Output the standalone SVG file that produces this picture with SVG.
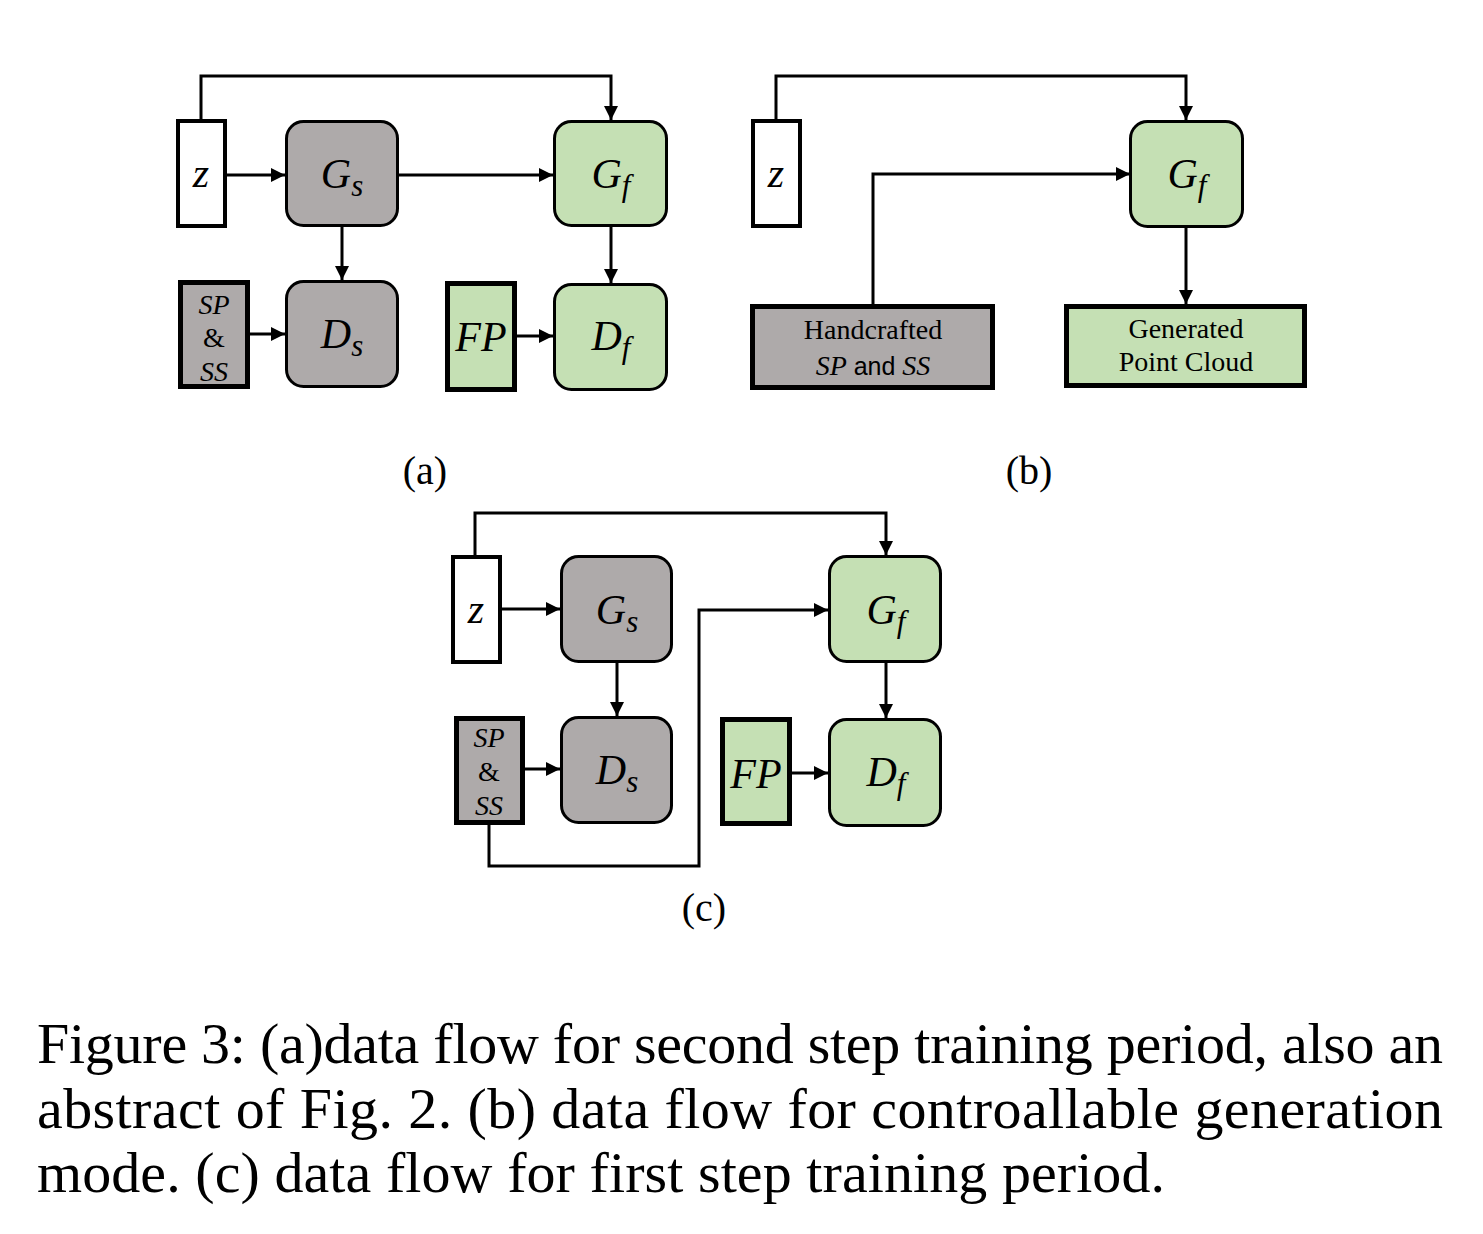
<svg xmlns="http://www.w3.org/2000/svg" width="1483" height="1234" viewBox="0 0 1483 1234">
<style>
.bg{fill:#ffffff}
.gray{fill:#AEAAAA;stroke:#000;stroke-width:3}
.green{fill:#C5E0B4;stroke:#000;stroke-width:3}
.zbox{fill:#ffffff;stroke:#000;stroke-width:4}
.sbox{fill:#AEAAAA;stroke:#000;stroke-width:5}
.fbox{fill:#C5E0B4;stroke:#000;stroke-width:5}
.conn{fill:none;stroke:#000;stroke-width:3}
.m{font-family:"Liberation Serif","DejaVu Serif",serif;font-style:italic;fill:#000;text-anchor:middle}
.big{font-size:42px}
.sub{font-size:31px}
.sm{font-size:28px}
.r{font-family:"Liberation Serif","DejaVu Serif",serif;fill:#000;text-anchor:middle}
.lbl{font-family:"Liberation Serif",serif;font-size:40px;fill:#000;text-anchor:middle}
.cap{font-family:"Liberation Serif",serif;font-size:58px;fill:#000}
</style>
<defs>
<marker id="arr" markerUnits="userSpaceOnUse" markerWidth="16" markerHeight="16" viewBox="0 0 16 16" refX="14" refY="8" orient="auto">
<path d="M0,1 L14,8 L0,15 Z" fill="#000"/>
</marker>
</defs>
<rect class="bg" x="0" y="0" width="1483" height="1234"/>

<!-- Panel (a) -->
<g id="a-connectors">
<path class="conn" d="M201 119 V76 H611 V120" marker-end="url(#arr)"/>
<path class="conn" d="M227 175 H285" marker-end="url(#arr)"/>
<path class="conn" d="M399 175 H553" marker-end="url(#arr)"/>
<path class="conn" d="M342 227 V280" marker-end="url(#arr)"/>
<path class="conn" d="M611 227 V283" marker-end="url(#arr)"/>
<path class="conn" d="M250 334 H285" marker-end="url(#arr)"/>
<path class="conn" d="M517 336 H553" marker-end="url(#arr)"/>
</g>
<g id="a-z"><rect class="zbox" x="178" y="121" width="47" height="105"/><text class="m big" x="201" y="187">z</text></g>
<g id="a-Gs"><rect class="gray" x="286.5" y="121.5" width="111" height="104" rx="17"/><text class="m big" x="342" y="188">G<tspan class="sub" dy="8">s</tspan></text></g>
<g id="a-Gf"><rect class="green" x="554.5" y="121.5" width="112" height="104" rx="17"/><text class="m big" x="611" y="188">G<tspan class="sub" dy="8">f</tspan></text></g>
<g id="a-Ds"><rect class="gray" x="286.5" y="281.5" width="111" height="105" rx="17"/><text class="m big" x="342" y="348">D<tspan class="sub" dy="8">s</tspan></text></g>
<g id="a-Df"><rect class="green" x="554.5" y="284.5" width="112" height="105" rx="17"/><text class="m big" x="611" y="350">D<tspan class="sub" dy="8">f</tspan></text></g>
<g id="a-SPSS"><rect class="sbox" x="180.5" y="282.5" width="67" height="104"/>
<text class="m sm" x="214" y="314">SP</text><text class="r sm" x="214" y="347">&amp;</text><text class="m sm" x="214" y="381">SS</text></g>
<g id="a-FP"><rect class="fbox" x="447.5" y="283.5" width="67" height="106"/><text class="m" style="font-size:42px" x="481" y="351">FP</text></g>
<text class="lbl" x="425" y="484">(a)</text>

<!-- Panel (b) -->
<g id="b-connectors">
<path class="conn" d="M776 119 V76 H1186 V120" marker-end="url(#arr)"/>
<path class="conn" d="M873 304 V174 H1130" marker-end="url(#arr)"/>
<path class="conn" d="M1186 227 V304" marker-end="url(#arr)"/>
</g>
<g id="b-z"><rect class="zbox" x="753" y="121" width="47" height="105"/><text class="m big" x="776" y="187">z</text></g>
<g id="b-Gf"><rect class="green" x="1130.5" y="121.5" width="112" height="105" rx="17"/><text class="m big" x="1187" y="188">G<tspan class="sub" dy="8">f</tspan></text></g>
<g id="b-hand"><rect class="sbox" x="752.5" y="306.5" width="240" height="81"/>
<text class="r" style="font-size:28px" x="873" y="339">Handcrafted</text>
<text class="r" style="font-size:28px" x="873" y="375"><tspan font-style="italic">SP</tspan><tspan font-family="Liberation Sans, sans-serif" font-size="25"> and </tspan><tspan font-style="italic">SS</tspan></text></g>
<g id="b-gen"><rect class="fbox" x="1066.5" y="306.5" width="238" height="79"/>
<text class="r" style="font-size:28px" x="1186" y="338">Generated</text>
<text class="r" style="font-size:28px" x="1186" y="371">Point Cloud</text></g>
<text class="lbl" x="1029" y="484">(b)</text>

<!-- Panel (c) -->
<g id="c-connectors">
<path class="conn" d="M475 555 V513 H886 V555" marker-end="url(#arr)"/>
<path class="conn" d="M502 609 H560" marker-end="url(#arr)"/>
<path class="conn" d="M617 663 V716" marker-end="url(#arr)"/>
<path class="conn" d="M525 769 H560" marker-end="url(#arr)"/>
<path class="conn" d="M886 663 V718" marker-end="url(#arr)"/>
<path class="conn" d="M792 773 H828" marker-end="url(#arr)"/>
<path class="conn" d="M489 825 V866 H699 V610 H828" marker-end="url(#arr)"/>
</g>
<g id="c-z"><rect class="zbox" x="453" y="557" width="47" height="105"/><text class="m big" x="476" y="623">z</text></g>
<g id="c-Gs"><rect class="gray" x="561.5" y="556.5" width="110" height="105" rx="17"/><text class="m big" x="617" y="624">G<tspan class="sub" dy="8">s</tspan></text></g>
<g id="c-Gf"><rect class="green" x="829.5" y="556.5" width="111" height="105" rx="17"/><text class="m big" x="886" y="624">G<tspan class="sub" dy="8">f</tspan></text></g>
<g id="c-Ds"><rect class="gray" x="561.5" y="717.5" width="110" height="105" rx="17"/><text class="m big" x="617" y="784">D<tspan class="sub" dy="8">s</tspan></text></g>
<g id="c-Df"><rect class="green" x="829.5" y="719.5" width="111" height="106" rx="17"/><text class="m big" x="886" y="786">D<tspan class="sub" dy="8">f</tspan></text></g>
<g id="c-SPSS"><rect class="sbox" x="456.5" y="718.5" width="66" height="104"/>
<text class="m sm" x="489" y="747">SP</text><text class="r sm" x="489" y="781">&amp;</text><text class="m sm" x="489" y="815">SS</text></g>
<g id="c-FP"><rect class="fbox" x="722.5" y="719.5" width="67" height="104"/><text class="m" style="font-size:42px" x="756" y="788">FP</text></g>
<text class="lbl" x="704" y="921">(c)</text>

<!-- Caption -->
<text class="cap" x="37" y="1063" textLength="1406" lengthAdjust="spacing">Figure 3: (a)data flow for second step training period, also an</text>
<text class="cap" x="37" y="1128" textLength="1406" lengthAdjust="spacing">abstract of Fig. 2. (b) data flow for controallable generation</text>
<text class="cap" x="37" y="1192" textLength="1128" lengthAdjust="spacing">mode. (c) data flow for first step training period.</text>
</svg>
